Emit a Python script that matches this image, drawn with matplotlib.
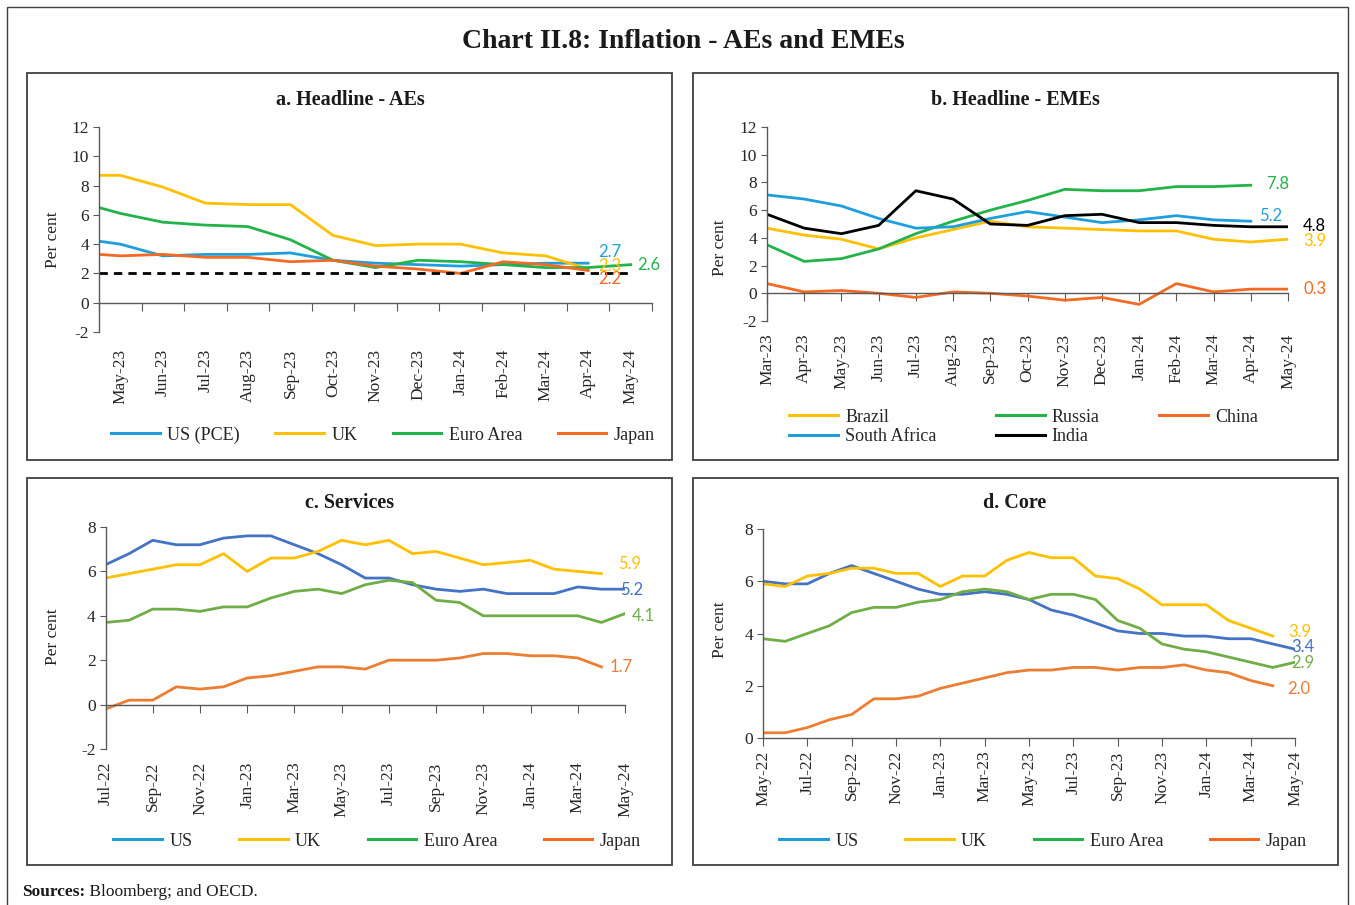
#%%
import matplotlib.pyplot as plt
from matplotlib.lines import Line2D
from matplotlib.patches import Rectangle

plt.rcParams['font.family'] = ['Liberation Serif', 'DejaVu Serif']
plt.rcParams['axes.unicode_minus'] = False

W, H = 1355, 905

#%%
#--Data
#a. Headline - AEs (first value is Apr-23, sits on the axis edge)
a_months = ['Apr-23', 'May-23', 'Jun-23', 'Jul-23', 'Aug-23', 'Sep-23', 'Oct-23',
            'Nov-23', 'Dec-23', 'Jan-24', 'Feb-24', 'Mar-24', 'Apr-24', 'May-24']
a_us = [4.2, 4.0, 3.2, 3.3, 3.3, 3.4, 2.9, 2.7, 2.6, 2.5, 2.6, 2.7, 2.7]
a_uk = [8.7, 8.7, 7.9, 6.8, 6.7, 6.7, 4.6, 3.9, 4.0, 4.0, 3.4, 3.2, 2.3]
a_ea = [6.5, 6.1, 5.5, 5.3, 5.2, 4.3, 2.9, 2.4, 2.9, 2.8, 2.6, 2.4, 2.4, 2.6]
a_jp = [3.3, 3.2, 3.3, 3.1, 3.1, 2.8, 2.9, 2.5, 2.3, 2.0, 2.8, 2.6, 2.2]
a_target = 2.0

#b. Headline - EMEs
b_months = ['Mar-23', 'Apr-23', 'May-23', 'Jun-23', 'Jul-23', 'Aug-23', 'Sep-23', 'Oct-23',
            'Nov-23', 'Dec-23', 'Jan-24', 'Feb-24', 'Mar-24', 'Apr-24', 'May-24']
b_brazil = [4.7, 4.2, 3.9, 3.2, 4.0, 4.6, 5.2, 4.8, 4.7, 4.6, 4.5, 4.5, 3.9, 3.7, 3.9]
b_russia = [3.5, 2.3, 2.5, 3.2, 4.3, 5.2, 6.0, 6.7, 7.5, 7.4, 7.4, 7.7, 7.7, 7.8]
b_china = [0.7, 0.1, 0.2, 0.0, -0.3, 0.1, 0.0, -0.2, -0.5, -0.3, -0.8, 0.7, 0.1, 0.3, 0.3]
b_safrica = [7.1, 6.8, 6.3, 5.4, 4.7, 4.8, 5.4, 5.9, 5.5, 5.1, 5.3, 5.6, 5.3, 5.2]
b_india = [5.7, 4.7, 4.3, 4.9, 7.4, 6.8, 5.0, 4.9, 5.6, 5.7, 5.1, 5.1, 4.9, 4.8, 4.8]

#c. Services
c_months = ['Jul-22', 'Aug-22', 'Sep-22', 'Oct-22', 'Nov-22', 'Dec-22', 'Jan-23', 'Feb-23',
            'Mar-23', 'Apr-23', 'May-23', 'Jun-23', 'Jul-23', 'Aug-23', 'Sep-23', 'Oct-23',
            'Nov-23', 'Dec-23', 'Jan-24', 'Feb-24', 'Mar-24', 'Apr-24', 'May-24']
c_us = [6.3, 6.8, 7.4, 7.2, 7.2, 7.5, 7.6, 7.6, 7.2, 6.8, 6.3, 5.7, 5.7, 5.4, 5.2, 5.1,
        5.2, 5.0, 5.0, 5.0, 5.3, 5.2, 5.2]
c_uk = [5.7, 5.9, 6.1, 6.3, 6.3, 6.8, 6.0, 6.6, 6.6, 6.9, 7.4, 7.2, 7.4, 6.8, 6.9, 6.6,
        6.3, 6.4, 6.5, 6.1, 6.0, 5.9]
c_ea = [3.7, 3.8, 4.3, 4.3, 4.2, 4.4, 4.4, 4.8, 5.1, 5.2, 5.0, 5.4, 5.6, 5.5, 4.7, 4.6,
        4.0, 4.0, 4.0, 4.0, 4.0, 3.7, 4.1]
c_jp = [-0.2, 0.2, 0.2, 0.8, 0.7, 0.8, 1.2, 1.3, 1.5, 1.7, 1.7, 1.6, 2.0, 2.0, 2.0, 2.1,
        2.3, 2.3, 2.2, 2.2, 2.1, 1.7]

#d. Core
d_months = ['May-22', 'Jun-22'] + c_months
d_us = [6.0, 5.9, 5.9, 6.3, 6.6, 6.3, 6.0, 5.7, 5.5, 5.5, 5.6, 5.5, 5.3, 4.9, 4.7, 4.4,
        4.1, 4.0, 4.0, 3.9, 3.9, 3.8, 3.8, 3.6, 3.4]
d_uk = [5.9, 5.8, 6.2, 6.3, 6.5, 6.5, 6.3, 6.3, 5.8, 6.2, 6.2, 6.8, 7.1, 6.9, 6.9, 6.2,
        6.1, 5.7, 5.1, 5.1, 5.1, 4.5, 4.2, 3.9]
d_ea = [3.8, 3.7, 4.0, 4.3, 4.8, 5.0, 5.0, 5.2, 5.3, 5.6, 5.7, 5.6, 5.3, 5.5, 5.5, 5.3,
        4.5, 4.2, 3.6, 3.4, 3.3, 3.1, 2.9, 2.7, 2.9]
d_jp = [0.2, 0.2, 0.4, 0.7, 0.9, 1.5, 1.5, 1.6, 1.9, 2.1, 2.3, 2.5, 2.6, 2.6, 2.7, 2.7,
        2.6, 2.7, 2.7, 2.8, 2.6, 2.5, 2.2, 2.0]

#%%
#--Colours
BLUE_A, YEL, GRN_A, RED_A = '#1E9FDB', '#FFC000', '#24B24B', '#F26A24'
BLUE_C, GRN_C, RED_C = '#4472C4', '#70AD47', '#ED7D31'
AXC = '#595959'
TXT = '#262626'
LW = 2.0

fig = plt.figure(figsize=(W / 100, H / 100), dpi=100)


def px_axes(left, top, right, bottom):
    return fig.add_axes([left / W, 1 - bottom / H, (right - left) / W, (bottom - top) / H])


def style(ax, ymin, ymax, ylab_px):
    ax.set_ylim(ymin, ymax)
    ax.set_yticks(range(ymin, ymax + 1, 2))
    for s in ['top', 'right']:
        ax.spines[s].set_visible(False)
    for s in ['left', 'bottom']:
        ax.spines[s].set_color(AXC)
        ax.spines[s].set_linewidth(1.0)
    ax.spines['bottom'].set_position(('data', 0))
    ax.tick_params(axis='y', direction='out', length=4, color=AXC, labelsize=12.5,
                   labelcolor=TXT, pad=3)
    ax.tick_params(axis='x', direction='out', length=6, color=AXC)
    ax.patch.set_visible(False)
    # y label anchor (right edge of the rotated text) in figure pixels
    l, b, w, h = ax.get_position().bounds
    ax.set_ylabel('Per cent', fontsize=12.5, color=TXT)
    ax.yaxis.set_label_coords((ylab_px[0] / W - l) / w, ((1 - ylab_px[1] / H) - b) / h)


def low_labels(ax, pos, labels, pad):
    sec = ax.secondary_xaxis('bottom')
    sec.set_xticks(pos, labels, rotation=90, fontsize=12.5, color=TXT)
    sec.tick_params(length=0, pad=pad)
    sec.spines['bottom'].set_visible(False)


def end_label(ax, x, y, color, dx, dy):
    ax.annotate('{:.1f}'.format(y), (x, y), xytext=(dx, dy), textcoords='offset pixels',
                ha='left', va='center', color=color, fontsize=12, family='Lato',
                annotation_clip=False)


def legend(ax, handles, labels, box_px, ncol):
    x0, y0, x1, y1 = box_px
    ax.legend(handles, labels, loc='center', ncol=ncol, mode='expand', frameon=False,
              bbox_to_anchor=(x0 / W, 1 - y1 / H, (x1 - x0) / W, (y1 - y0) / H),
              bbox_transform=fig.transFigure, fontsize=13, handlelength=2.7,
              handletextpad=0.4, borderaxespad=0, labelspacing=0.15, labelcolor=TXT)


def lh(color):
    return Line2D([], [], color=color, lw=2.2)


#%%
#--a. Headline - AEs
ax = px_axes(99, 127, 652, 332)
a_pos = [0] + [i - 0.5 for i in range(1, len(a_months))]
ax.plot(a_pos[:len(a_us)], a_us, color=BLUE_A, lw=LW)
ax.plot(a_pos[:len(a_uk)], a_uk, color=YEL, lw=LW)
ax.plot(a_pos[:len(a_ea)], a_ea, color=GRN_A, lw=LW)
ax.plot(a_pos[:len(a_jp)], a_jp, color=RED_A, lw=LW)
ax.hlines(a_target, 0, a_pos[-1], colors='black', lw=2.0, linestyles=(0, (3, 2.2)))
ax.set_xlim(0, len(a_months) - 1)
ax.set_xticks(range(len(a_months)), [''] * len(a_months))
style(ax, -2, 12, (61, 240))
low_labels(ax, a_pos[1:], a_months[1:], 12)
end_label(ax, a_pos[len(a_us) - 1], a_us[-1], BLUE_A, 10, 11)
end_label(ax, a_pos[len(a_uk) - 1], a_uk[-1], YEL, 10, 3)
end_label(ax, a_pos[len(a_jp) - 1], a_jp[-1], RED_A, 10, -9)
end_label(ax, a_pos[len(a_ea) - 1], a_ea[-1], GRN_A, 6, 0)
legend(ax, [lh(BLUE_A), lh(YEL), lh(GRN_A), lh(RED_A)], ['US (PCE)', 'UK', 'Euro Area', 'Japan'],
       (104, 424, 662, 446), 4)

#--b. Headline - EMEs
ax = px_axes(767, 127, 1288, 321)
b_pos = list(range(len(b_months)))
ax.plot(b_pos[:len(b_brazil)], b_brazil, color=YEL, lw=LW)
ax.plot(b_pos[:len(b_russia)], b_russia, color=GRN_A, lw=LW)
ax.plot(b_pos[:len(b_china)], b_china, color=RED_A, lw=LW)
ax.plot(b_pos[:len(b_safrica)], b_safrica, color=BLUE_A, lw=LW)
ax.plot(b_pos[:len(b_india)], b_india, color='black', lw=LW)
ax.set_xlim(0, len(b_months) - 1)
ax.set_xticks(b_pos, [''] * len(b_pos))
style(ax, -2, 12, (728, 248))
low_labels(ax, b_pos, b_months, 9)
end_label(ax, b_pos[len(b_russia) - 1], b_russia[-1], GRN_A, 15, 1)
end_label(ax, b_pos[len(b_safrica) - 1], b_safrica[-1], BLUE_A, 8, 5)
end_label(ax, b_pos[len(b_india) - 1], b_india[-1], 'black', 15, 1)
end_label(ax, b_pos[len(b_brazil) - 1], b_brazil[-1], YEL, 15, -2)
end_label(ax, b_pos[len(b_china) - 1], b_china[-1], RED_A, 15, 0)
legend(ax, [lh(YEL), lh(BLUE_A), lh(GRN_A), lh('black'), lh(RED_A)],
       ['Brazil', 'South Africa', 'Russia', 'India', 'China'], (782, 405, 1265, 449), 3)

#--c. Services
ax = px_axes(105.5, 527, 625, 749)
c_pos = list(range(len(c_months)))
ax.plot(c_pos[:len(c_us)], c_us, color=BLUE_C, lw=LW)
ax.plot(c_pos[:len(c_uk)], c_uk, color=YEL, lw=LW)
ax.plot(c_pos[:len(c_ea)], c_ea, color=GRN_C, lw=LW)
ax.plot(c_pos[:len(c_jp)], c_jp, color=RED_C, lw=LW)
ax.set_xlim(0, len(c_months) - 1)
ax.set_xticks(c_pos[::2], [''] * len(c_pos[::2]))
style(ax, -2, 8, (61, 637))
low_labels(ax, c_pos[::2], c_months[::2], 9)
end_label(ax, c_pos[len(c_uk) - 1], c_uk[-1], YEL, 17, 10)
end_label(ax, c_pos[len(c_us) - 1], c_us[-1], BLUE_C, -5, -1)
end_label(ax, c_pos[len(c_ea) - 1], c_ea[-1], GRN_C, 7, -2)
end_label(ax, c_pos[len(c_jp) - 1], c_jp[-1], RED_C, 8, 0)
legend(ax, [lh(BLUE_A), lh(YEL), lh(GRN_A), lh(RED_A)], ['US', 'UK', 'Euro Area', 'Japan'],
       (106, 830, 648, 852), 4)

#--d. Core
ax = px_axes(763, 529, 1295, 738)
d_pos = list(range(len(d_months)))
ax.plot(d_pos[:len(d_us)], d_us, color=BLUE_C, lw=LW)
ax.plot(d_pos[:len(d_uk)], d_uk, color=YEL, lw=LW)
ax.plot(d_pos[:len(d_ea)], d_ea, color=GRN_C, lw=LW)
ax.plot(d_pos[:len(d_jp)], d_jp, color=RED_C, lw=LW)
ax.set_xlim(0, len(d_months) - 1)
style(ax, 0, 8, (728, 630))
ax.set_xticks(d_pos[::2], d_months[::2], rotation=90, fontsize=12.5, color=TXT)
ax.tick_params(axis='x', pad=3)
end_label(ax, d_pos[len(d_uk) - 1], d_uk[-1], YEL, 15, 4)
end_label(ax, d_pos[len(d_us) - 1], d_us[-1], BLUE_C, -4, 2)
end_label(ax, d_pos[len(d_ea) - 1], d_ea[-1], GRN_C, -4, -1)
end_label(ax, d_pos[len(d_jp) - 1], d_jp[-1], RED_C, 14, -3)
legend(ax, [lh(BLUE_A), lh(YEL), lh(GRN_A), lh(RED_A)], ['US', 'UK', 'Euro Area', 'Japan'],
       (772, 830, 1314, 852), 4)

#%%
#--Frames, titles, source
def frame(left, top, right, bottom, lw=1.3):
    fig.patches.append(Rectangle((left / W, 1 - bottom / H), (right - left) / W, (bottom - top) / H,
                                 transform=fig.transFigure, fill=False, ec='#404040', lw=lw))


frame(7, 7, 1348, 920, lw=1.0)
frame(27, 73, 672, 460)
frame(693, 73, 1338, 460)
frame(27, 478, 672, 865)
frame(693, 478, 1338, 865)

fig.text(683 / W, 1 - 42 / H, 'Chart II.8: Inflation - AEs and EMEs', ha='center', va='center',
         fontsize=20, fontweight='bold', color='#1a1a1a')
for x, y, t in [(350, 100, 'a. Headline - AEs'), (1015, 100, 'b. Headline - EMEs'),
                (350, 503, 'c. Services'), (1015, 503, 'd. Core')]:
    fig.text(x / W, 1 - y / H, t, ha='center', va='center', fontsize=14.5, fontweight='bold',
             color='#1a1a1a')

src = fig.text(22 / W, 1 - 892 / H, 'Sources:', ha='left', va='center', fontsize=12.5,
               fontweight='bold', color='#1a1a1a')
ax.annotate(' Bloomberg; and OECD.', xy=(1, 0.5), xycoords=src, ha='left', va='center',
            fontsize=12.5, color='#1a1a1a', annotation_clip=False)

plt.savefig('out.png', dpi=100)
